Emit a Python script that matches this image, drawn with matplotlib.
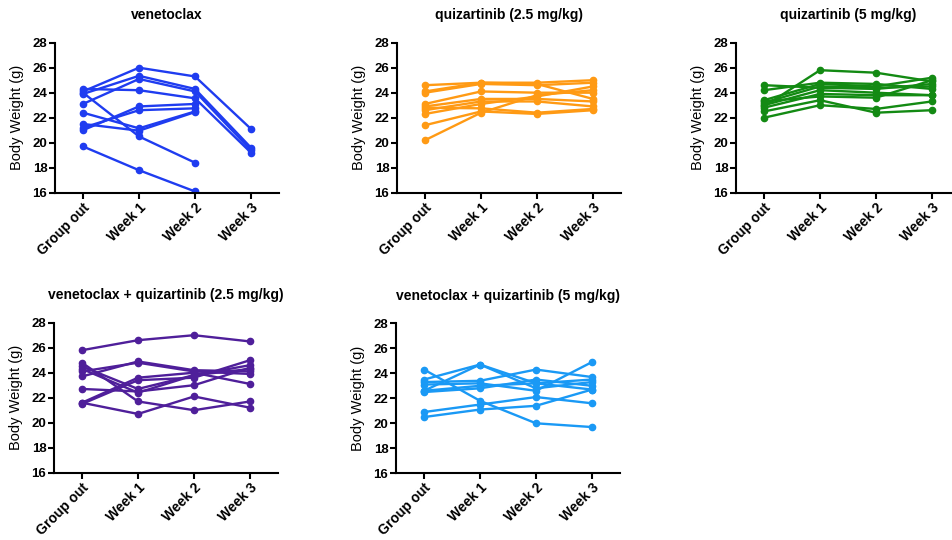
import numpy as np
import matplotlib
matplotlib.use('Agg')
import matplotlib.pyplot as plt

plt.rcParams['font.family'] = ['Liberation Sans', 'DejaVu Sans']

timepoints = ['Group out', 'Week 1', 'Week 2', 'Week 3']

# body weights per mouse (g), nan = no measurement
venetoclax = [
    [24.1, 26.0, 25.3, 21.1],
    [23.9, 25.35, 24.3, 19.6],
    [23.1, 25.1, 24.1, 19.4],
    [24.3, 24.2, 23.55, 19.2],
    [24.0, 20.5, 18.4, np.nan],
    [22.4, 21.15, 22.5, np.nan],
    [21.0, 22.9, 23.1, np.nan],
    [21.2, 22.6, 22.75, np.nan],
    [21.5, 20.96, 22.45, np.nan],
    [19.7, 17.8, 16.1, np.nan],
]
quiz_25 = [
    [24.6, 24.8, 24.8, 25.0],
    [24.1, 24.8, 24.7, 23.5],
    [24.0, 24.7, 24.6, 24.8],
    [23.1, 24.1, 24.0, 24.0],
    [22.9, 23.5, 23.5, 23.3],
    [22.6, 23.3, 23.3, 22.9],
    [22.3, 23.1, 23.7, 24.5],
    [22.8, 22.75, 22.4, 22.7],
    [21.4, 22.5, 22.3, 22.6],
    [20.2, 22.4, 23.8, 24.2],
]
quiz_5 = [
    [22.9, 25.8, 25.6, 24.9],
    [24.6, 24.4, 24.3, 24.7],
    [24.2, 24.8, 24.7, 24.3],
    [23.4, 24.7, 24.5, 25.2],
    [23.2, 24.5, 24.4, 24.5],
    [23.0, 24.2, 24.0, 23.8],
    [22.8, 23.9, 23.8, 23.8],
    [22.5, 23.4, 22.4, 22.6],
    [22.0, 23.0, 22.7, 23.3],
    [23.3, 23.7, 23.6, 25.0],
]
combo_25 = [
    [25.8, 26.6, 27.0, 26.5],
    [24.8, 21.7, 21.0, 21.7],
    [24.5, 22.7, 23.8, 24.6],
    [24.1, 24.8, 24.1, 23.9],
    [23.7, 24.9, 24.2, 24.1],
    [22.7, 22.5, 23.0, 24.4],
    [21.6, 23.6, 24.0, 23.1],
    [21.5, 23.4, 23.6, 25.0],
    [21.6, 20.7, 22.1, 21.2],
    [24.3, 22.4, 23.8, 24.3],
]
combo_5 = [
    [24.3, 21.8, 20.0, 19.7],
    [23.5, 24.7, 23.2, 23.5],
    [22.6, 24.7, 22.8, 23.3],
    [23.3, 23.4, 24.3, 23.7],
    [23.1, 23.2, 22.6, 24.9],
    [22.5, 22.8, 23.5, 23.0],
    [22.6, 23.0, 23.2, 22.7],
    [20.9, 21.5, 22.1, 21.6],
    [20.5, 21.1, 21.4, 22.7],
]

panels = [
    ('venetoclax', venetoclax, '#1f3cf0', [55, 42.7]),
    ('quizartinib (2.5 mg/kg)', quiz_25, '#ff9a14', [397, 42.7]),
    ('quizartinib (5 mg/kg)', quiz_5, '#138a13', [736, 42.7]),
    ('venetoclax + quizartinib (2.5 mg/kg)', combo_25, '#4f1f9a', [54, 322.7]),
    ('venetoclax + quizartinib (5 mg/kg)', combo_5, '#1a99f5', [396, 323.3]),
]

W, H = 953, 540
fig = plt.figure(figsize=(W / 100, H / 100), dpi=100)

x = np.arange(len(timepoints))
for title, data, color, (left, top) in panels:
    ax = fig.add_axes([left / W, 1 - (top + 150) / H, 224 / W, 150 / H])
    for mouse in data:
        ax.plot(x, mouse, color=color, lw=1.7, marker='o', ms=4.5, mec=color)
    ax.set_xlim(-0.5, 3.5)
    ax.set_ylim(16, 28)
    ax.set_yticks(np.arange(16, 29, 2))
    ax.set_xticks(x)
    ax.set_xticklabels(timepoints, rotation=45, ha='right', rotation_mode='anchor',
                       fontsize=10, fontweight='bold')
    for lab in ax.get_yticklabels():
        lab.set_fontsize(9.5)
        lab.set_fontweight('bold')
    ax.spines['top'].set_visible(False)
    ax.spines['right'].set_visible(False)
    ax.spines['left'].set_linewidth(1.5)
    ax.spines['bottom'].set_linewidth(1.5)
    ax.tick_params(width=1.5, length=4, pad=1.5)
    ax.set_ylabel('Body Weight (g)', fontsize=10.5, labelpad=6)
    ax.set_title(title, fontsize=10, fontweight='bold', pad=17)

fig.savefig('out.png', dpi=100)
